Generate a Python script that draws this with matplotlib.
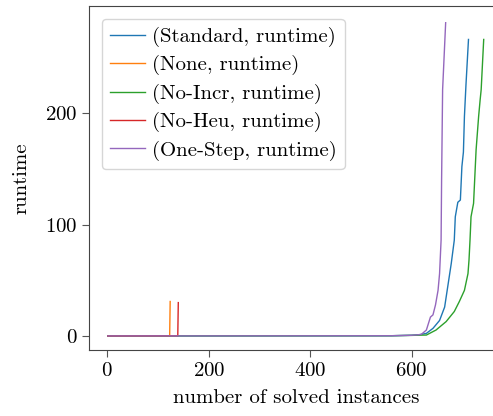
import matplotlib
matplotlib.use("Agg")
import matplotlib.pyplot as plt

# cactus plot: breakpoints (instance index, runtime)
standard_x = [1, 560, 600, 615, 629, 642, 655, 665, 671, 678, 684, 686, 691, 696, 699, 702, 704, 707, 712]
standard_y = [0.1, 0.3, 0.7, 1.2, 2.4, 6.9, 14, 26, 44, 65, 86, 107, 120, 122, 152, 165, 197, 225, 266]

none_x = [1, 123, 124]
none_y = [0.1, 0.3, 31]

noincr_x = [1, 560, 600, 615, 629, 648, 668, 684, 694, 704, 711, 713, 715, 717, 722, 727, 732, 735, 737, 742]
noincr_y = [0.1, 0.3, 0.6, 0.8, 0.9, 5.4, 13, 22, 31, 41, 56, 68, 86, 107, 119, 167, 197, 212, 221, 266]

noheu_x = [1, 139, 140]
noheu_y = [0.1, 0.3, 30]

onestep_x = [1, 560, 600, 610, 619, 629, 637, 642, 647, 652, 655, 658, 659, 661, 667]
onestep_y = [0.1, 0.3, 0.7, 1.0, 1.5, 5.4, 17, 19, 28, 41, 56, 86, 140, 221, 281]

names = ["Standard", "None", "No-Incr", "No-Heu", "One-Step"]
colors = ["#1f77b4", "#ff7f0e", "#2ca02c", "#d62728", "#9467bd"]

plt.rcParams["font.family"] = "serif"
plt.rcParams["font.serif"] = ["cmr10"]
plt.rcParams["mathtext.fontset"] = "cm"
plt.rcParams["axes.formatter.use_mathtext"] = True
plt.rcParams["font.size"] = 15

fig = plt.figure(figsize=(4.93, 4.16), dpi=100)
ax = fig.add_axes([89 / 493, 66 / 416, (504 - 89) / 493, 344 / 416])

series = [(standard_x, standard_y), (none_x, none_y), (noincr_x, noincr_y),
          (noheu_x, noheu_y), (onestep_x, onestep_y)]
for (xs, ys), name, c in zip(series, names, colors):
    ax.plot(xs, ys, color=c, lw=1.0, label=f"({name}, runtime)")

ax.set_xlim(-36, 782)
ax.set_ylim(-12.5, 296)
ax.set_xticks([0, 200, 400, 600])
ax.set_yticks([0, 100, 200])
ax.set_xlabel("number of solved instances", labelpad=7)
ax.set_ylabel("runtime", labelpad=10)
for s in ax.spines.values():
    s.set_color("#444444")
ax.tick_params(color="#555555", length=5)
ax.legend(loc="upper left", handlelength=1.7, handletextpad=0.3,
          labelspacing=0.4, borderaxespad=0.6, borderpad=0.4)

fig.savefig("out.png", dpi=100)
